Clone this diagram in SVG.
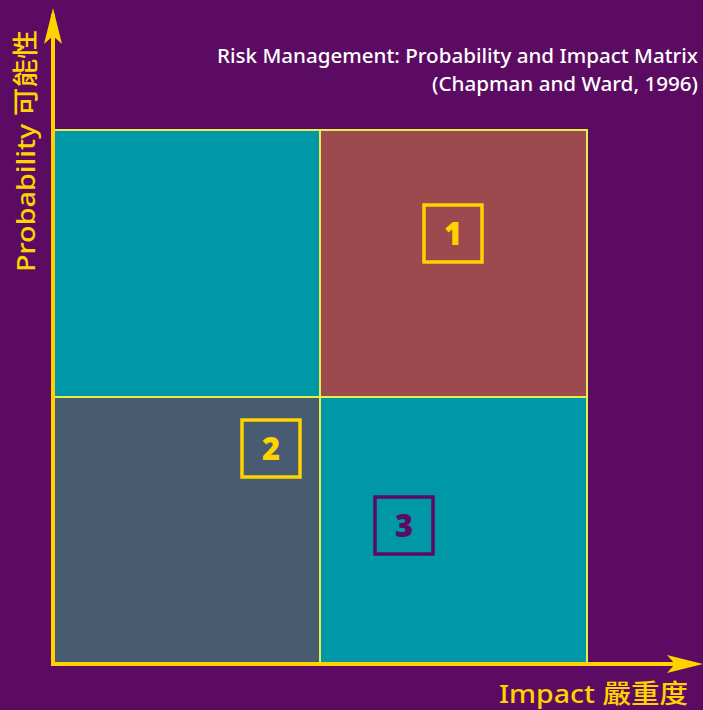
<svg xmlns="http://www.w3.org/2000/svg" width="703" height="710" viewBox="0 0 703 710">
<style>
.cell{stroke:#e6ef4a;stroke-width:2}
.axis{stroke:#ffd200;stroke-width:4;fill:none}
.lbl{font-family:"Noto Sans","Noto Sans CJK TC",sans-serif;font-size:26px;font-weight:500;fill:#ffd200}
.title{font-family:"Noto Sans",sans-serif;font-size:20px;font-weight:500;fill:#ffffff;text-anchor:end}
.num{font-family:"Open Sans",sans-serif;font-size:31px;font-weight:800;text-anchor:middle}
.box{fill:none;stroke-width:3.5}
</style>
<rect width="703" height="710" fill="#5c0b63"/>
<g id="cells">
<rect class="cell" x="53" y="130" width="267" height="267" fill="#0097a7"/>
<rect class="cell" x="320" y="130" width="267" height="267" fill="#9c4a4e"/>
<rect class="cell" x="53" y="397" width="267" height="267" fill="#475c70"/>
<rect class="cell" x="320" y="397" width="267" height="267" fill="#0097a7"/>
</g>
<g id="connectors">
<path class="axis" d="M53,666 L53,14"/>
<path d="M53,8 L62,44 L53,36 L44,44 Z" fill="#ffd200"/>
<path class="axis" d="M51,664 L696,664"/>
<path d="M703,664 L667,655 L675,664 L667,673 Z" fill="#ffd200"/>
</g>
<g id="title">
<text class="title" x="698" y="63" textLength="481" lengthAdjust="spacingAndGlyphs">Risk Management: Probability and Impact Matrix</text>
<text class="title" x="698" y="91" textLength="266" lengthAdjust="spacingAndGlyphs">(Chapman and Ward, 1996)</text>
</g>
<g id="ylabel"><text class="lbl" transform="translate(35,272) rotate(-90)" textLength="242" lengthAdjust="spacingAndGlyphs">Probability 可能性</text></g>
<g id="xlabel"><text class="lbl" x="499" y="703" textLength="189" lengthAdjust="spacingAndGlyphs">Impact 嚴重度</text></g>
<g id="n1">
<rect class="box" x="424" y="205" width="58" height="57" stroke="#ffd200"/>
<text class="num" x="453" y="245" fill="#ffd200">1</text>
</g>
<g id="n2">
<rect class="box" x="242" y="420" width="58" height="57" stroke="#ffd200"/>
<text class="num" x="271" y="460" fill="#ffd200">2</text>
</g>
<g id="n3">
<rect class="box" x="375" y="497" width="58" height="57" stroke="#5c0b63"/>
<text class="num" x="404" y="537" fill="#5c0b63">3</text>
</g>
</svg>
